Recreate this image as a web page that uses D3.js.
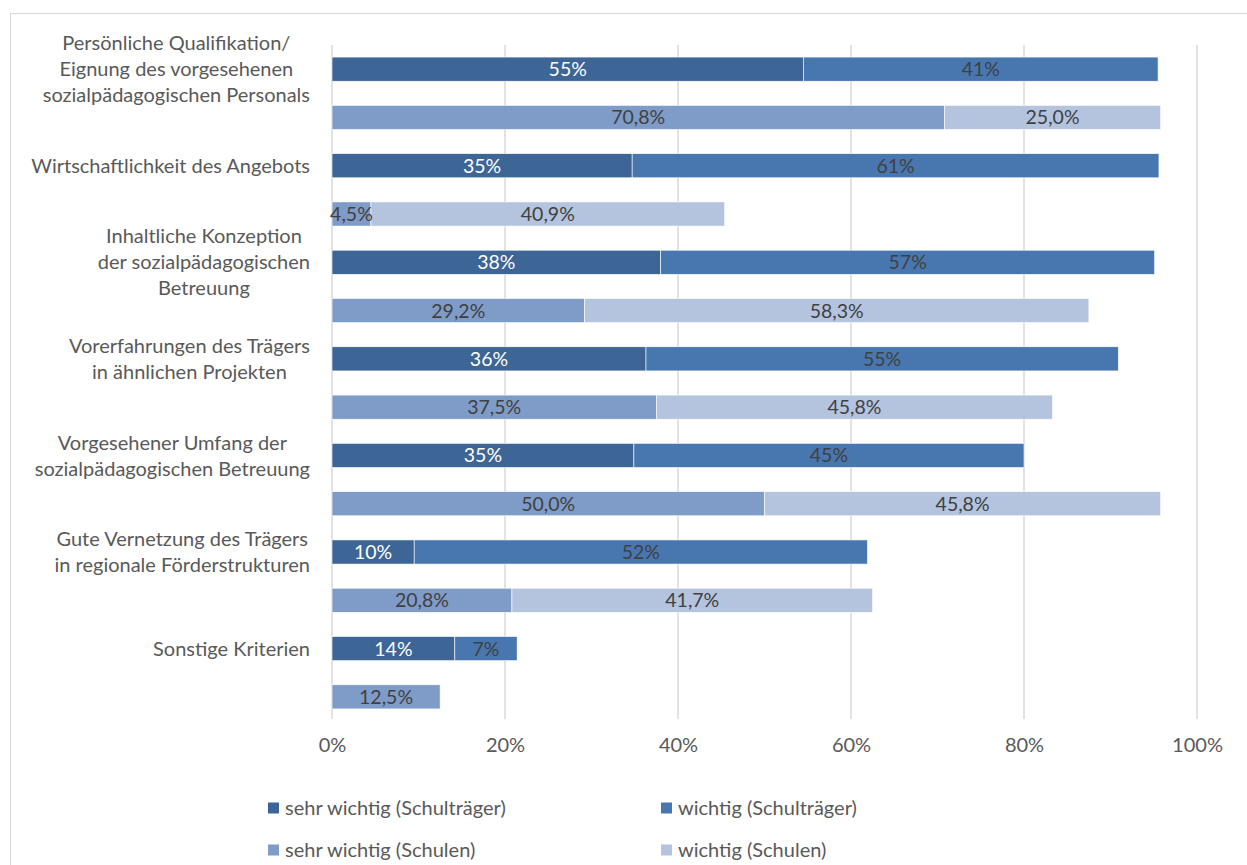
<!DOCTYPE html>
<html>
<head>
<meta charset="utf-8">
<script src="https://cdn.jsdelivr.net/npm/d3@7"></script>
<style>
  body { margin: 0; background: #fff; }
  svg { display: block; font-family: Lato, "Open Sans", sans-serif; }
</style>
</head>
<body>
<svg id="chart" width="1247" height="865"></svg>
<script>
// Data
const categories = [
  ["Persönliche Qualifikation/", "Eignung des vorgesehenen", "sozialpädagogischen Personals"],
  ["Wirtschaftlichkeit des Angebots"],
  ["Inhaltliche Konzeption", "der sozialpädagogischen", "Betreuung"],
  ["Vorerfahrungen des Trägers", "in ähnlichen Projekten"],
  ["Vorgesehener Umfang der", "sozialpädagogischen Betreuung"],
  ["Gute Vernetzung des Trägers", "in regionale Förderstrukturen"],
  ["Sonstige Kriterien"]
];
const traegerSehrWichtig = [54.5, 34.7, 38.0, 36.3, 34.9, 9.5, 14.2];
const traegerWichtig     = [41.0, 60.9, 57.1, 54.6, 45.1, 52.4, 7.2];
const schulenSehrWichtig = [70.8, 4.5, 29.2, 37.5, 50.0, 20.8, 12.5];
const schulenWichtig     = [25.0, 40.9, 58.3, 45.8, 45.8, 41.7, 0];
const ticks = [0, 20, 40, 60, 80, 100];

const seriesNames = ["sehr wichtig (Schulträger)", "wichtig (Schulträger)",
                     "sehr wichtig (Schulen)", "wichtig (Schulen)"];
const colors = ["#3d6595", "#4877b0", "#7f9cc9", "#b4c4df"];

const de = d3.formatLocale({decimal: ",", thousands: ".", grouping: [3], currency: ["", "€"]});
const fmtInt = v => Math.round(v) + "%";
const fmtOne = v => de.format(".1f")(v) + "%";

// rows: for each category two bars (Schulträger, Schulen)
const rows = [];
categories.forEach((c, i) => {
  rows.push({id: i + "-t", segs: [
    {v: traegerSehrWichtig[i], s: 0, label: fmtInt(traegerSehrWichtig[i]), txt: "#ffffff"},
    {v: traegerWichtig[i], s: 1, label: fmtInt(traegerWichtig[i]), txt: "#404040"}
  ]});
  rows.push({id: i + "-s", segs: [
    {v: schulenSehrWichtig[i], s: 2, label: fmtOne(schulenSehrWichtig[i]), txt: "#404040"},
    {v: schulenWichtig[i], s: 3, label: fmtOne(schulenWichtig[i]), txt: "#404040"}
  ]});
});

const svg = d3.select('#chart');

// outer frame
svg.append('rect')
  .attr('x', 10.5).attr('y', 13.5)
  .attr('width', 1400).attr('height', 1000)
  .attr('fill', 'none').attr('stroke', '#d9d9d9');

const x = d3.scaleLinear().domain([0, 100]).range([332, 1197]);
const y = d3.scaleBand().domain(rows.map(r => r.id)).range([45, 721]).paddingInner(0.5).paddingOuter(0.25);

// gridlines
svg.append('g')
  .selectAll('line')
  .data(ticks)
  .join('line')
  .attr('x1', d => x(d)).attr('x2', d => x(d))
  .attr('y1', 45).attr('y2', 719)
  .attr('stroke', '#d9d9d9').attr('stroke-width', 1.5);

// axis tick labels
const xAxis = d3.axisBottom(x).tickValues(ticks).tickFormat(d => d + "%").tickSize(0).tickPadding(0);
const axG = svg.append('g').attr('transform', 'translate(0,738)').call(xAxis);
axG.select('.domain').remove();
axG.selectAll('text')
  .attr('font-size', 20).attr('fill', '#595959')
  .attr('font-family', 'Lato, "Open Sans", sans-serif');

// bars
const rowG = svg.append('g').selectAll('g.row')
  .data(rows)
  .join('g')
  .attr('class', 'row')
  .attr('transform', d => `translate(0,${y(d.id)})`);

rowG.each(function(r) {
  let acc = 0;
  r.segs.forEach(s => { s.x0 = acc; acc += s.v; s.x1 = acc; });
  const g = d3.select(this);
  const segs = r.segs.filter(s => s.v > 0);
  g.selectAll('rect')
    .data(segs)
    .join('rect')
    .attr('x', s => x(s.x0))
    .attr('width', s => x(s.x1) - x(s.x0))
    .attr('y', 0).attr('height', y.bandwidth())
    .attr('fill', s => colors[s.s])
    .attr('stroke', '#ffffff').attr('stroke-width', 0.6);
  g.selectAll('text')
    .data(segs)
    .join('text')
    .attr('x', s => (x(s.x0) + x(s.x1)) / 2)
    .attr('y', y.bandwidth() / 2)
    .attr('dy', '0.36em')
    .attr('text-anchor', 'middle')
    .attr('font-size', 19.5)
    .attr('fill', s => s.txt)
    .text(s => s.label);
});

// category labels (centered block, right edge at 310)
const lineH = 26;
const catG = svg.append('g').selectAll('text.cat')
  .data(categories)
  .join('text')
  .attr('class', 'cat')
  .attr('text-anchor', 'middle')
  .attr('font-size', 20)
  .attr('fill', '#595959');

catG.each(function(lines, i) {
  const t = d3.select(this);
  const cy = y(i + "-t") + y.bandwidth() / 2;
  const start = cy - (lines.length - 1) * lineH / 2;
  lines.forEach((l, k) => {
    t.append('tspan').attr('y', start + k * lineH).attr('dy', '0.36em').text(l);
  });
  let maxW = 0;
  t.selectAll('tspan').each(function() { maxW = Math.max(maxW, this.getComputedTextLength()); });
  t.selectAll('tspan').attr('x', 310 - maxW / 2);
});

// legend
const legendPos = [[268, 808], [661, 808], [268, 850], [661, 850]];
const leg = svg.append('g').selectAll('g')
  .data(seriesNames)
  .join('g')
  .attr('transform', (d, i) => `translate(${legendPos[i][0]},${legendPos[i][1]})`);
leg.append('rect')
  .attr('x', 0).attr('y', -5.5).attr('width', 11).attr('height', 11)
  .attr('fill', (d, i) => colors[i]);
leg.append('text')
  .attr('x', 17).attr('dy', '0.36em')
  .attr('font-size', 20).attr('fill', '#595959')
  .text(d => d);
</script>
</body>
</html>
